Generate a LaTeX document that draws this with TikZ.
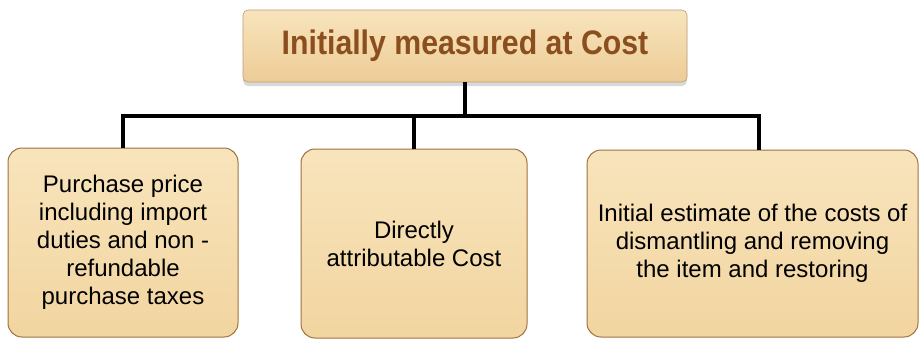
\documentclass[tikz,border=0pt]{standalone}
\usepackage{fontspec}
\setmainfont{Liberation Sans}
\newfontfamily\headfont{Liberation Sans}[FakeStretch=0.89]
\usetikzlibrary{shadows}
\definecolor{boxtan}{RGB}{242,213,160}
\definecolor{boxlight}{RGB}{248,228,188}
\definecolor{boxedge}{RGB}{160,112,63}
\definecolor{headbrown}{RGB}{139,78,30}
\tikzset{
  costbox/.style = {draw = boxedge, line width = 1pt, rounded corners = 14pt,
    top color = boxlight, bottom color = boxtan, align = center,
    inner sep = 0pt, font = \fontsize{24}{28}\selectfont},
  headbox/.style = {draw = boxedge!70, line width = .6pt, rounded corners = 5pt,
    top color = boxlight, bottom color = boxtan!90!brown,
    drop shadow = {shadow xshift = 0pt, shadow yshift = -4pt, opacity = .3},
    minimum width = 444pt, minimum height = 72pt, inner sep = 0pt,
    text = headbrown, font = \headfont\bfseries\fontsize{34}{38}\selectfont},
  link/.style = {line width = 4.5pt}
}
\begin{document}
\begin{tikzpicture}[x = 1pt, y = -1pt]
  \useasboundingbox (0,0) rectangle (919,341);
  \node[headbox] (top) at (465,46) {Initially measured at Cost};
  \node[costbox, minimum width = 230pt, minimum height = 189pt] (price) at (123,242.5)
    {Purchase price\\including import\\duties and non -\\refundable\\purchase taxes};
  \node[costbox, minimum width = 226pt, minimum height = 189pt] (direct) at (414,243.5)
    {Directly\\attributable Cost};
  \node[costbox, minimum width = 331pt, minimum height = 187pt] (restore) at (752.5,243.5)
    {Initial estimate of the costs of\\dismantling and removing\\the item and restoring};
  \coordinate (bus) at (465,116);
  \draw[link] (top.south) -- (bus);
  \draw[link] (bus) -| (price.north);
  \draw[link] (bus) -| (direct.north);
  \draw[link] (bus) -| ([xshift = 6.5pt]restore.north);
\end{tikzpicture}
\end{document}
